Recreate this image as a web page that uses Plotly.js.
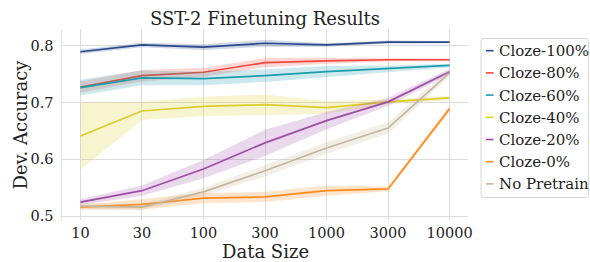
<!DOCTYPE html>
<html>
<head>
<meta charset="utf-8">
<script src="https://cdn.plot.ly/plotly-3.0.1.min.js"></script>
<style>html,body{margin:0;padding:0;background:#fff;}#chart{width:590px;height:262px;}</style>
</head>
<body>
<div id="chart"></div>
<script>
// ---- data ----
const sizes = ['10', '30', '100', '300', '1000', '3000', '10000'];
const seriesNames = ['Cloze-100%', 'Cloze-80%', 'Cloze-60%', 'Cloze-40%', 'Cloze-20%', 'Cloze-0%', 'No Pretrain'];
const cloze100 = [0.789, 0.801, 0.797, 0.804, 0.801, 0.806, 0.806];
const cloze100Err = [0.004, 0.004, 0.005, 0.006, 0.003, 0.003, 0.002];
const cloze80 = [0.727, 0.747, 0.753, 0.770, 0.773, 0.775, 0.775];
const cloze80Err = [0.010, 0.010, 0.008, 0.008, 0.005, 0.003, 0.002];
const cloze60 = [0.726, 0.743, 0.742, 0.747, 0.754, 0.759, 0.765];
const cloze60Err = [0.014, 0.013, 0.012, 0.011, 0.010, 0.006, 0.003];
const cloze40 = [0.641, 0.685, 0.693, 0.696, 0.691, 0.701, 0.708];
const cloze40Err = [0.059, 0.016, 0.017, 0.018, 0.011, 0.004, 0.004];
const cloze20 = [0.525, 0.545, 0.583, 0.629, 0.668, 0.701, 0.754];
const cloze20Err = [0.005, 0.009, 0.016, 0.023, 0.015, 0.007, 0.005];
const cloze0 = [0.516, 0.521, 0.532, 0.534, 0.545, 0.548, 0.689];
const cloze0Err = [0.004, 0.009, 0.009, 0.009, 0.009, 0.004, 0.006];
const noPretrain = [0.518, 0.516, 0.543, 0.580, 0.620, 0.655, 0.752];
const noPretrainErr = [0.006, 0.005, 0.007, 0.010, 0.010, 0.010, 0.006];
const yTicks = [0.5, 0.6, 0.7, 0.8];

// ---- styling ----
const colors = ['#2a4a8c', '#f5473b', '#1a9dad', '#dccd2a', '#9e4da7', '#ff8a1c', '#c6b59a'];
const means = [cloze100, cloze80, cloze60, cloze40, cloze20, cloze0, noPretrain];
const errs = [cloze100Err, cloze80Err, cloze60Err, cloze40Err, cloze20Err, cloze0Err, noPretrainErr];
const FONT = 'DejaVu Serif';

function rgba(hex, a) {
  const n = parseInt(hex.slice(1), 16);
  return `rgba(${(n >> 16) & 255},${(n >> 8) & 255},${n & 255},${a})`;
}

const traces = [];
means.forEach((m, i) => {
  const hi = m.map((v, k) => v + errs[i][k]);
  const lo = m.map((v, k) => v - errs[i][k]);
  traces.push({
    x: sizes.concat(sizes.slice().reverse()),
    y: hi.concat(lo.slice().reverse()),
    type: 'scatter', mode: 'lines', fill: 'toself',
    fillcolor: rgba(colors[i], 0.22), line: {width: 0, color: 'rgba(0,0,0,0)'},
    hoverinfo: 'skip', showlegend: false
  });
  traces.push({
    x: sizes, y: m, type: 'scatter', mode: 'lines', name: seriesNames[i],
    line: {color: colors[i], width: 1.7}, showlegend: false
  });
});

// plot area in pixels
const L = 62, R = 468, T = 29, B = 220, W = 590, H = 262;
const px = x => (x - L) / (R - L);
const py = y => (B - y) / (B - T);

const shapes = [];
const annotations = [];
// legend box (rounded)
const bx0 = 481, bx1 = 588.5, by0 = 38.5, by1 = 197.5, r = 3;
shapes.push({
  type: 'path', xref: 'paper', yref: 'paper',
  path: `M${px(bx0 + r)},${py(by0)} L${px(bx1 - r)},${py(by0)} Q${px(bx1)},${py(by0)} ${px(bx1)},${py(by0 + r)} L${px(bx1)},${py(by1 - r)} Q${px(bx1)},${py(by1)} ${px(bx1 - r)},${py(by1)} L${px(bx0 + r)},${py(by1)} Q${px(bx0)},${py(by1)} ${px(bx0)},${py(by1 - r)} L${px(bx0)},${py(by0 + r)} Q${px(bx0)},${py(by0)} ${px(bx0 + r)},${py(by0)} Z`,
  line: {color: '#d6d6d6', width: 1}, fillcolor: 'rgba(255,255,255,0.85)'
});
seriesNames.forEach((name, i) => {
  const yc = 50.7 + i * 22.2;
  shapes.push({
    type: 'line', xref: 'paper', yref: 'paper',
    x0: px(486), x1: px(493.5), y0: py(yc), y1: py(yc),
    line: {color: colors[i], width: 1.6}
  });
  annotations.push({
    xref: 'paper', yref: 'paper', x: px(496.5), y: py(yc + 0.5),
    xanchor: 'left', yanchor: 'middle', showarrow: false,
    text: name, font: {family: FONT, size: 15, color: '#222'}
  });
});
// y-axis title
annotations.push({
  xref: 'paper', yref: 'paper', x: px(20), y: py(124.5),
  xanchor: 'center', yanchor: 'middle', showarrow: false, textangle: -90,
  text: 'Dev. Accuracy', font: {family: FONT, size: 18, color: '#222'}
});
// x-axis title
annotations.push({
  xref: 'paper', yref: 'paper', x: 0.5, y: py(251),
  xanchor: 'center', yanchor: 'middle', showarrow: false,
  text: 'Data Size', font: {family: FONT, size: 18, color: '#222'}
});

const layout = {
  width: W, height: H,
  margin: {l: L, r: W - R, t: T, b: H - B, pad: 0},
  paper_bgcolor: '#fff', plot_bgcolor: '#fff',
  showlegend: false,
  font: {family: FONT, color: '#222'},
  title: {text: 'SST-2 Finetuning Results', font: {family: FONT, size: 18, color: '#222'},
          x: 0.5 * (L + R) / W, xanchor: 'center', y: 1 - 19 / H, yanchor: 'middle'},
  xaxis: {
    type: 'category', categoryorder: 'array', categoryarray: sizes,
    range: [-0.3, 6.3], showgrid: true, gridcolor: '#dcdcdc', gridwidth: 1,
    zeroline: false, showline: false, ticks: '', ticklabelstandoff: 2,
    tickfont: {family: FONT, size: 14.5, color: '#222'}
  },
  yaxis: {
    range: [0.4935, 0.829], tickvals: yTicks, ticktext: yTicks.map(v => v.toFixed(1)),
    showgrid: true, gridcolor: '#dcdcdc', gridwidth: 1, zeroline: false,
    showline: true, linecolor: '#e3e3e3', linewidth: 1.5, ticks: '', ticklabelstandoff: 4,
    tickfont: {family: FONT, size: 14.5, color: '#222'}
  },
  shapes: shapes,
  annotations: annotations
};

Plotly.newPlot('chart', traces, layout, {displayModeBar: false, staticPlot: true});
</script>
</body>
</html>
